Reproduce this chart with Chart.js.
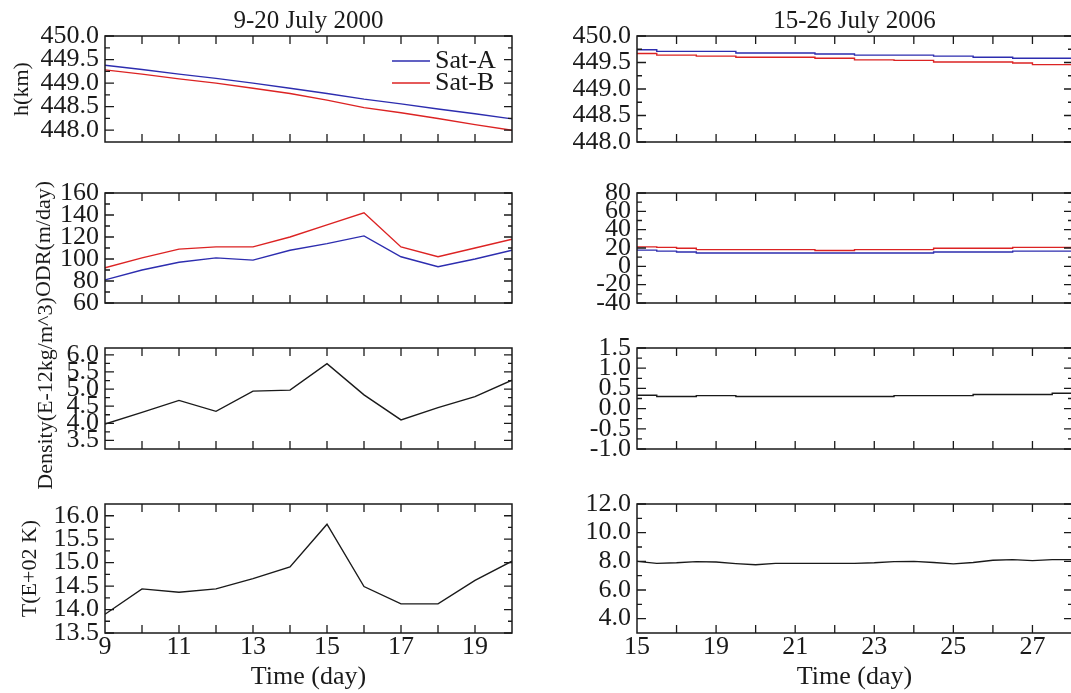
<!DOCTYPE html>
<html>
<head>
<meta charset="utf-8">
<script src="https://cdn.jsdelivr.net/npm/chart.js@4.4.0/dist/chart.umd.min.js"></script>
<style>
  body { margin: 0; background: #fff; width: 1071px; height: 693px; overflow: hidden; position: relative; }
  canvas { position: absolute; }
</style>
</head>
<body>
<canvas id="hL"></canvas>
<canvas id="hR"></canvas>
<canvas id="odrL"></canvas>
<canvas id="odrR"></canvas>
<canvas id="denL"></canvas>
<canvas id="denR"></canvas>
<canvas id="tL"></canvas>
<canvas id="tR"></canvas>
<script>
// ---- data: 9-20 July 2000 (one value per day)
var days2000 = [9, 10, 11, 12, 13, 14, 15, 16, 17, 18, 19, 20];
var hSatA2000 = [449.38, 449.29, 449.19, 449.10, 449.00, 448.89, 448.78, 448.66, 448.56, 448.45, 448.35, 448.24];
var hSatB2000 = [449.28, 449.19, 449.09, 449.00, 448.89, 448.78, 448.64, 448.48, 448.37, 448.25, 448.12, 448.00];
var odrSatA2000 = [81, 90, 97, 101, 99, 108, 114, 121, 102, 93, 100, 108];
var odrSatB2000 = [92, 101, 109, 111, 111, 120, 131, 142, 111, 102, 110, 118];
var density2000 = [3.98, 4.32, 4.67, 4.35, 4.94, 4.97, 5.74, 4.83, 4.10, 4.46, 4.78, 5.26];
var temp2000 = [13.90, 14.44, 14.37, 14.44, 14.66, 14.91, 15.82, 14.49, 14.12, 14.12, 14.62, 15.03];

// ---- data: July 2006 (half-day samples, stepped)
var days2006 = [17, 17.5, 18, 18.5, 19, 19.5, 20, 20.5, 21, 21.5, 22, 22.5, 23, 23.5, 24, 24.5, 25, 25.5, 26, 26.5, 27, 27.5, 28];
var hSatA2006 = [449.74, 449.71, 449.71, 449.71, 449.71, 449.68, 449.68, 449.68, 449.68, 449.66, 449.66, 449.64,
                 449.64, 449.64, 449.64, 449.62, 449.62, 449.60, 449.60, 449.58, 449.58, 449.58, 449.58];
var hSatB2006 = [449.67, 449.64, 449.64, 449.62, 449.62, 449.60, 449.60, 449.60, 449.60, 449.58, 449.58, 449.55,
                 449.55, 449.54, 449.54, 449.51, 449.51, 449.51, 449.51, 449.49, 449.46, 449.46, 449.46];
var odrSatA2006 = [17.7, 16.6, 15.7, 14.5, 14.5, 14.5, 14.5, 14.5, 14.5, 14.5, 14.5, 14.5,
                   14.5, 14.5, 14.5, 15.7, 15.7, 15.7, 15.7, 16.6, 16.6, 16.6, 16.6];
var odrSatB2006 = [21.2, 20.7, 19.7, 18.2, 18.2, 18.2, 18.2, 18.2, 18.2, 17.2, 17.2, 18.2,
                   18.2, 18.2, 18.2, 19.7, 19.7, 19.7, 19.7, 20.7, 20.7, 20.7, 20.7];
var density2006 = [0.33, 0.30, 0.30, 0.32, 0.32, 0.30, 0.30, 0.30, 0.30, 0.30, 0.30, 0.30,
                   0.30, 0.32, 0.32, 0.32, 0.32, 0.35, 0.35, 0.35, 0.35, 0.38, 0.38];
var temp2006 = [8.00, 7.86, 7.90, 7.98, 7.95, 7.84, 7.76, 7.86, 7.86, 7.86, 7.86, 7.86,
                7.90, 7.98, 8.00, 7.92, 7.82, 7.92, 8.08, 8.12, 8.05, 8.12, 8.12];

// ---- tick labels
var xTicks2000 = ['9', '11', '13', '15', '17', '19'];
var xTickValues2006 = [17, 19, 21, 23, 25, 27];
var xTickLabels2006 = ['15', '19', '21', '23', '25', '27'];
var hTicks2000 = ['448.0', '448.5', '449.0', '449.5', '450.0'];
var odrTicks2000 = ['60', '80', '100', '120', '140', '160'];
var denTicks2000 = ['3.5', '4.0', '4.5', '5.0', '5.5', '6.0'];
var tTicks2000 = ['13.5', '14.0', '14.5', '15.0', '15.5', '16.0'];
var hTicks2006 = ['448.0', '448.5', '449.0', '449.5', '450.0'];
var odrTicks2006 = ['-40', '-20', '0', '20', '40', '60', '80'];
var denTicks2006 = ['-1.0', '-0.5', '0.0', '0.5', '1.0', '1.5'];
var tTicks2006 = ['4.0', '6.0', '8.0', '10.0', '12.0'];

var SERIF = '"Liberation Serif", "DejaVu Serif", serif';
var BLUE = 'rgb(45,45,175)';
var RED = 'rgb(220,35,35)';
var INK = '#1a1a1a';

function pts(xs, ys) {
    return xs.map(function (x, i) { return { x: x, y: ys[i] }; });
}

// box around the plot with inward ticks on all four sides
var framePlugin = {
    id: 'frame',
    afterDatasetsDraw: function (chart) {
        var ctx = chart.ctx, a = chart.chartArea;
        var x = chart.scales.x, y = chart.scales.y;
        ctx.save();
        ctx.strokeStyle = INK;
        ctx.lineWidth = 1.5;
        ctx.strokeRect(a.left, a.top, a.right - a.left, a.bottom - a.top);
        ctx.lineWidth = 1.3;
        ctx.beginPath();
        for (var d = Math.ceil(x.min) + 1; d < x.max; d++) {
            var px = x.getPixelForValue(d);
            ctx.moveTo(px, a.bottom); ctx.lineTo(px, a.bottom - 8);
            ctx.moveTo(px, a.top); ctx.lineTo(px, a.top + 8);
        }
        var vals = y.ticks.map(function (t) { return t.value; });
        var step = vals[1] - vals[0];
        vals.forEach(function (v) {
            var py = y.getPixelForValue(v);
            ctx.moveTo(a.left, py); ctx.lineTo(a.left + 9, py);
            ctx.moveTo(a.right, py); ctx.lineTo(a.right - 8, py);
        });
        var minors = vals.map(function (v) { return v + step / 2; });
        minors.push(vals[0] - step / 2);
        minors.forEach(function (v) {
            if (v <= y.min || v >= y.max) return;
            var py = y.getPixelForValue(v);
            ctx.moveTo(a.left, py); ctx.lineTo(a.left + 5, py);
            ctx.moveTo(a.right, py); ctx.lineTo(a.right - 4, py);
        });
        ctx.stroke();
        ctx.restore();
    }
};

// rotated y title, drawn freely so long titles are not squeezed
function sideTitle(text, cx, dy) {
    return {
        id: 'sideTitle',
        afterDraw: function (chart) {
            var ctx = chart.ctx, a = chart.chartArea;
            ctx.save();
            ctx.translate(cx, (a.top + a.bottom) / 2 + dy);
            ctx.rotate(-Math.PI / 2);
            ctx.font = '22px ' + SERIF;
            ctx.fillStyle = INK;
            ctx.textAlign = 'center';
            ctx.textBaseline = 'middle';
            ctx.fillText(text, 0, 0);
            ctx.restore();
        }
    };
}

// legend inside the top-right corner of the plot
var insideLegend = {
    id: 'insideLegend',
    afterDraw: function (chart) {
        var ctx = chart.ctx, a = chart.chartArea;
        ctx.save();
        ctx.font = '26px ' + SERIF;
        ctx.textBaseline = 'middle';
        chart.data.datasets.forEach(function (ds, i) {
            var yy = a.top + 25 + i * 22;
            ctx.strokeStyle = ds.borderColor;
            ctx.lineWidth = 1.5;
            ctx.beginPath();
            ctx.moveTo(a.right - 120, yy); ctx.lineTo(a.right - 82, yy);
            ctx.stroke();
            ctx.fillStyle = INK;
            ctx.fillText(ds.label, a.right - 77, yy);
        });
        ctx.restore();
    }
};

// one panel = one chart; box gives canvas rect and plot rect in page pixels
function panel(id, box, o) {
    var cv = document.getElementById(id);
    cv.width = box.w; cv.height = box.h;
    cv.style.left = box.x + 'px'; cv.style.top = box.y + 'px';
    cv.style.width = box.w + 'px'; cv.style.height = box.h + 'px';

    var yVals = o.yTicks.map(parseFloat);
    var titleH = o.title ? 36 : 0;
    var plugins = [framePlugin];
    if (o.yTitle) plugins.push(sideTitle(o.yTitle, o.yTitleX, o.yTitleDy || 0));
    if (o.legend) plugins.push(insideLegend);

    var xOpts = {
        type: 'linear', min: o.xMin, max: o.xMax,
        display: !!o.xLabels,
        grid: { display: false, drawTicks: false },
        border: { display: false },
        afterBuildTicks: function (s) {
            s.ticks = (o.xValues || []).map(function (v) { return { value: v }; });
        },
        afterFit: function (s) { s.height = box.y + box.h - box.plotBottom; },
        ticks: {
            padding: 1, color: INK, maxRotation: 0, autoSkip: false,
            font: { family: SERIF, size: 26, lineHeight: 1 },
            callback: function (v, i) { return o.xLabels ? o.xLabels[i] : ''; }
        },
        title: {
            display: !!o.xLabels, text: 'Time (day)', color: INK,
            padding: 0, font: { family: SERIF, size: 26 }
        }
    };

    return new Chart(cv, {
        type: 'line',
        data: { datasets: o.datasets },
        options: {
            responsive: false, animation: false, devicePixelRatio: 1,
            layout: {
                padding: {
                    left: 0,
                    right: box.x + box.w - box.plotRight,
                    top: box.plotTop - box.y - titleH,
                    bottom: o.xLabels ? 0 : box.y + box.h - box.plotBottom
                }
            },
            elements: { point: { radius: 0 }, line: { borderWidth: 1.4, tension: 0 } },
            scales: {
                x: xOpts,
                y: {
                    type: 'linear', min: o.yMin, max: o.yMax,
                    grid: { display: false, drawTicks: false },
                    border: { display: false },
                    afterBuildTicks: function (s) {
                        s.ticks = yVals.map(function (v) { return { value: v }; });
                    },
                    afterFit: function (s) { s.width = box.plotLeft - box.x; },
                    ticks: {
                        padding: 6, color: INK, autoSkip: false,
                        font: { family: SERIF, size: 26, lineHeight: 1 },
                        callback: function (v, i) { return o.yTicks[i]; }
                    }
                }
            },
            plugins: {
                legend: { display: false },
                tooltip: { enabled: false },
                title: {
                    display: !!o.title, text: o.title || '', color: INK, fullSize: false,
                    padding: { top: 6, bottom: 0 },
                    font: { family: SERIF, size: 25, weight: 'normal', lineHeight: 1.2 }
                }
            }
        },
        plugins: plugins
    });
}

// page geometry
var L = { x: 0, w: 540, plotLeft: 105, plotRight: 512 };
var R = { x: 540, w: 533, plotLeft: 637, plotRight: 1072 };
var rows = [
    { y: 0, h: 190, plotTop: 36, plotBottom: 166 },
    { y: 170, h: 173, plotTop: 193, plotBottom: 323 },
    { y: 290, h: 215, plotTop: 348, plotBottom: 477 },
    { y: 480, h: 213, plotTop: 504, plotBottom: 633 }
];
function at(col, row) { return Object.assign({}, col, row); }

function line(label, xs, ys, color, stepped) {
    return { label: label, data: pts(xs, ys), borderColor: color, stepped: !!stepped, fill: false };
}

panel('hL', at(L, rows[0]), {
    title: '9-20 July 2000', yTitle: 'h(km)', yTitleX: 22, legend: true,
    xMin: 9, xMax: 20, yMin: 447.75, yMax: 450, yTicks: hTicks2000,
    datasets: [line('Sat-A', days2000, hSatA2000, BLUE), line('Sat-B', days2000, hSatB2000, RED)]
});
panel('hR', at(R, rows[0]), {
    title: '15-26 July 2006',
    xMin: 17, xMax: 28, yMin: 448, yMax: 450, yTicks: hTicks2006,
    datasets: [line('Sat-A', days2006, hSatA2006, BLUE, true), line('Sat-B', days2006, hSatB2006, RED, true)]
});
panel('odrL', at(L, rows[1]), {
    yTitle: 'ODR(m/day)', yTitleX: 44, yTitleDy: -9,
    xMin: 9, xMax: 20, yMin: 60, yMax: 160, yTicks: odrTicks2000,
    datasets: [line('Sat-A', days2000, odrSatA2000, BLUE), line('Sat-B', days2000, odrSatB2000, RED)]
});
panel('odrR', at(R, rows[1]), {
    xMin: 17, xMax: 28, yMin: -40, yMax: 80, yTicks: odrTicks2006,
    datasets: [line('Sat-A', days2006, odrSatA2006, BLUE, true), line('Sat-B', days2006, odrSatB2006, RED, true)]
});
panel('denL', at(L, rows[2]), {
    yTitle: 'Density(E-12kg/m^3)', yTitleX: 46, yTitleDy: -5,
    xMin: 9, xMax: 20, yMin: 3.25, yMax: 6.2, yTicks: denTicks2000,
    datasets: [line('Density', days2000, density2000, INK)]
});
panel('denR', at(R, rows[2]), {
    xMin: 17, xMax: 28, yMin: -1, yMax: 1.5, yTicks: denTicks2006,
    datasets: [line('Density', days2006, density2006, INK, true)]
});
panel('tL', at(L, rows[3]), {
    yTitle: 'T(E+02 K)', yTitleX: 30,
    xMin: 9, xMax: 20, yMin: 13.5, yMax: 16.25, yTicks: tTicks2000,
    xValues: xTicks2000.map(parseFloat), xLabels: xTicks2000,
    datasets: [line('T', days2000, temp2000, INK)]
});
panel('tR', at(R, rows[3]), {
    xMin: 17, xMax: 28, yMin: 3, yMax: 12, yTicks: tTicks2006,
    xValues: xTickValues2006, xLabels: xTickLabels2006,
    datasets: [line('T', days2006, temp2006, INK)]
});
</script>
</body>
</html>
